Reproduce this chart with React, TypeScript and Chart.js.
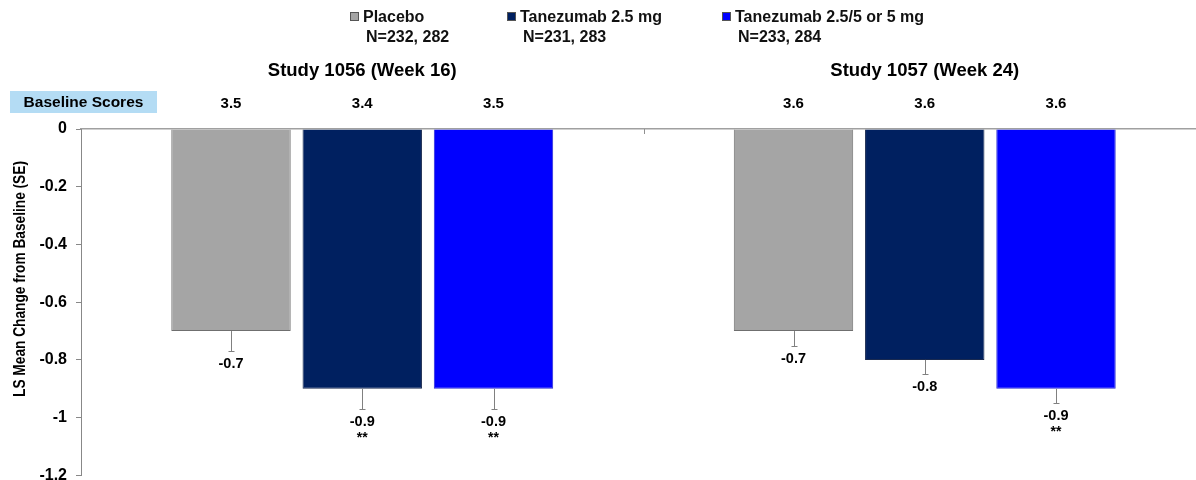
import React, { useEffect, useRef } from "react";
import { Chart, registerables } from "chart.js";

Chart.register(...registerables);

const studies = ["Study 1056 (Week 16)", "Study 1057 (Week 24)"];
const seriesNames = ["Placebo", "Tanezumab 2.5 mg", "Tanezumab 2.5/5 or 5 mg"];
const seriesN = ["N=232, 282", "N=231, 283", "N=233, 284"];
const seriesColors = ["#a5a5a5", "#002060", "#0000ff"];
const seriesBorders = ["#6f6f6f", "#1a2a50", "#2a2ad0"];

const placeboValues = [-0.7, -0.7];
const tanezumab25Values = [-0.9, -0.8];
const tanezumab5Values = [-0.9, -0.9];

const placeboSE = [0.07, 0.05];
const tanezumab25SE = [0.07, 0.05];
const tanezumab5SE = [0.07, 0.05];

const placeboBaseline = ["3.5", "3.6"];
const tanezumab25Baseline = ["3.4", "3.6"];
const tanezumab5Baseline = ["3.5", "3.6"];

const placeboSig = ["", ""];
const tanezumab25Sig = ["**", ""];
const tanezumab5Sig = ["**", "**"];

const baselineLabel = "Baseline Scores";
const yTitle = "LS Mean Change from Baseline (SE)";

const FONT = '"Liberation Sans", Arial, sans-serif';

const annotatePlugin = {
  id: "annotate",
  afterDatasetsDraw(chart: any) {
    const ctx: CanvasRenderingContext2D = chart.ctx;
    const xs = chart.scales.x;
    const ys = chart.scales.y;
    const ca = chart.chartArea;
    ctx.save();

    // category boundary ticks on the zero axis
    ctx.strokeStyle = "#909090";
    ctx.lineWidth = 1;
    for (let i = 0; i < chart.data.labels.length - 1; i++) {
      const bx = Math.round((xs.getPixelForValue(i) + xs.getPixelForValue(i + 1)) / 2) + 0.5;
      ctx.beginPath();
      ctx.moveTo(bx, ca.top);
      ctx.lineTo(bx, ca.top + 5);
      ctx.stroke();
    }

    // study titles
    ctx.fillStyle = "#000";
    ctx.textAlign = "center";
    ctx.textBaseline = "middle";
    ctx.font = `bold 18.5px ${FONT}`;
    chart.data.labels.forEach((l: string, i: number) => {
      ctx.fillText(l, xs.getPixelForValue(i), 71);
    });

    // baseline scores box
    ctx.fillStyle = "#b4dcf4";
    ctx.fillRect(10, 91, 147, 22);
    ctx.fillStyle = "#000";
    ctx.font = `bold 15.5px ${FONT}`;
    ctx.fillText(baselineLabel, 83.5, 103);

    chart.data.datasets.forEach((ds: any, di: number) => {
      const meta = chart.getDatasetMeta(di);
      meta.data.forEach((bar: any, i: number) => {
        const v = ds.data[i];
        const se = ds.se[i];
        const yEnd = Math.round(ys.getPixelForValue(v - se)) + 0.5;
        const bx = Math.round(bar.x) + 0.5;
        ctx.strokeStyle = "#808080";
        ctx.lineWidth = 1;
        ctx.beginPath();
        ctx.moveTo(bx, bar.y);
        ctx.lineTo(bx, yEnd);
        ctx.moveTo(bx - 3, yEnd);
        ctx.lineTo(bx + 3, yEnd);
        ctx.stroke();

        ctx.fillStyle = "#000";
        ctx.textAlign = "center";
        ctx.textBaseline = "middle";
        ctx.font = `bold 14.5px ${FONT}`;
        ctx.fillText(v.toFixed(1), bar.x, yEnd + 12);
        if (ds.sig[i]) {
          ctx.font = `bold 14px ${FONT}`;
          ctx.fillText(ds.sig[i], bar.x, yEnd + 29);
        }
        ctx.font = `bold 15px ${FONT}`;
        ctx.fillText(ds.baseline[i], bar.x, 104);
      });
    });

    // legend
    const legendX = [350, 507, 722];
    ctx.textAlign = "left";
    ctx.textBaseline = "alphabetic";
    ctx.font = `bold 16px ${FONT}`;
    chart.data.datasets.forEach((ds: any, di: number) => {
      const sx = legendX[di];
      ctx.fillStyle = ds.backgroundColor;
      ctx.fillRect(sx, 12, 9, 9);
      ctx.strokeStyle = "#555";
      ctx.lineWidth = 1;
      ctx.strokeRect(sx + 0.5, 12.5, 8, 8);
      ctx.fillStyle = "#111";
      ctx.fillText(ds.label, sx + 13, 22);
      ctx.fillText(ds.nLabel, sx + 16, 42);
    });

    // y-axis title
    ctx.save();
    ctx.translate(20, 279);
    ctx.rotate(-Math.PI / 2);
    ctx.scale(0.83, 1);
    ctx.textAlign = "center";
    ctx.textBaseline = "middle";
    ctx.font = `bold 16.5px ${FONT}`;
    ctx.fillStyle = "#000";
    ctx.fillText(yTitle, 0, 0);
    ctx.restore();

    ctx.restore();
  },
};

export default function App() {
  const canvasRef = useRef<HTMLCanvasElement | null>(null);

  useEffect(() => {
    if (!canvasRef.current) return;
    const mk = (i: number, data: number[], se: number[], baseline: string[], sig: string[]) => ({
      label: seriesNames[i],
      nLabel: seriesN[i],
      data,
      se,
      baseline,
      sig,
      backgroundColor: seriesColors[i],
      borderColor: seriesBorders[i],
      borderWidth: 1,
      categoryPercentage: 0.7,
      barPercentage: 0.91,
    });
    const chart = new Chart(canvasRef.current, {
      type: "bar",
      data: {
        labels: studies,
        datasets: [
          mk(0, placeboValues, placeboSE, placeboBaseline, placeboSig),
          mk(1, tanezumab25Values, tanezumab25SE, tanezumab25Baseline, tanezumab25Sig),
          mk(2, tanezumab5Values, tanezumab5SE, tanezumab5Baseline, tanezumab5Sig),
        ] as any,
      },
      options: {
        animation: false,
        responsive: true,
        maintainAspectRatio: false,
        layout: { padding: { top: 0, left: 0, right: 8, bottom: 15 } },
        plugins: { legend: { display: false }, tooltip: { enabled: false }, title: { display: false } },
        scales: {
          x: {
            position: "top",
            offset: true,
            ticks: { display: false },
            grid: { display: false },
            border: { display: true, color: "#a0a0a0", width: 1.5 },
            afterFit: (s: any) => {
              s.height = 129;
            },
          },
          y: {
            min: -1.2,
            max: 0,
            ticks: {
              stepSize: 0.2,
              padding: 9,
              color: "#000",
              font: { family: FONT, size: 16, weight: "bold" },
              callback: (v: any) => String(Number(Number(v).toFixed(2))),
            },
            grid: { drawOnChartArea: false, drawTicks: true, tickLength: 5, color: "#888" },
            border: { display: true, color: "#888", width: 1 },
            afterFit: (s: any) => {
              s.width = 81;
            },
          },
        },
      } as any,
      plugins: [annotatePlugin],
    });
    return () => chart.destroy();
  }, []);

  return (
    <div
      style={{
        position: "fixed",
        left: 0,
        top: 0,
        width: 1196,
        height: 480,
        overflow: "hidden",
        background: "#fff",
      }}
    >
      <div style={{ position: "relative", width: 1214, height: 494 }}>
        <canvas ref={canvasRef} />
      </div>
    </div>
  );
}
